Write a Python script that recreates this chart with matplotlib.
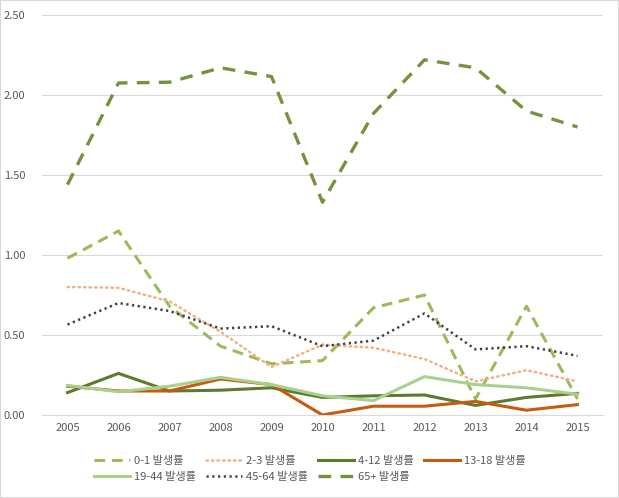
import matplotlib
matplotlib.use("Agg")
import matplotlib.pyplot as plt
from matplotlib.patches import Rectangle

plt.rcParams['font.family'] = ['Noto Sans CJK KR', 'DejaVu Sans']

years = ['2005', '2006', '2007', '2008', '2009', '2010', '2011', '2012', '2013', '2014', '2015']
s_0_1 = [0.98, 1.15, 0.68, 0.43, 0.32, 0.34, 0.67, 0.75, 0.10, 0.68, 0.10]
s_2_3 = [0.80, 0.795, 0.71, 0.52, 0.30, 0.44, 0.42, 0.35, 0.21, 0.28, 0.21]
s_4_12 = [0.14, 0.26, 0.15, 0.155, 0.17, 0.11, 0.12, 0.125, 0.06, 0.11, 0.135]
s_13_18 = [0.18, 0.15, 0.15, 0.225, 0.19, 0.00, 0.055, 0.055, 0.085, 0.03, 0.065]
s_19_44 = [0.185, 0.145, 0.18, 0.235, 0.19, 0.12, 0.09, 0.24, 0.19, 0.17, 0.13]
s_45_64 = [0.565, 0.70, 0.65, 0.54, 0.555, 0.43, 0.465, 0.635, 0.41, 0.43, 0.37]
s_65p = [1.44, 2.075, 2.08, 2.17, 2.115, 1.33, 1.885, 2.22, 2.17, 1.90, 1.80]
y_ticks = [0.0, 0.5, 1.0, 1.5, 2.0, 2.5]

fig = plt.figure(figsize=(6.19, 4.98), dpi=100)
ax = fig.add_axes([42/619, 1 - 415/498, (603 - 42)/619, 400/498])

x = list(range(len(years)))
ax.plot(x, s_0_1, color='#9BBB59', lw=2.2, ls=(0, (3.5, 2.2)), label='0-1 발생률')
ax.plot(x, s_2_3, color='#F4B183', lw=1.8, ls=(0, (0.6, 1.6)), dash_capstyle='round', label='2-3 발생률')
ax.plot(x, s_4_12, color='#5E7A2E', lw=2.2, label='4-12 발생률')
ax.plot(x, s_13_18, color='#C55A11', lw=2.2, label='13-18 발생률')
ax.plot(x, s_19_44, color='#A9D18E', lw=2.2, label='19-44 발생률')
ax.plot(x, s_45_64, color='#404040', lw=1.8, ls=(0, (0.9, 1.4)), label='45-64 발생률')
ax.plot(x, s_65p, color='#76923C', lw=2.4, ls=(0, (3.8, 2.8)), label='65+ 발생률')

ax.set_xlim(-0.5, len(years) - 0.5)
ax.set_ylim(0, 2.5)
ax.set_xticks(x)
ax.set_xticklabels(years)
ax.set_yticks(y_ticks)
ax.set_yticklabels([f'{v:.2f}' for v in y_ticks])
ax.tick_params(axis='both', length=0, labelsize=8, colors='#595959', pad=6)
ax.tick_params(axis='y', pad=12)
ax.yaxis.grid(True, color='#D9D9D9', lw=0.8)
ax.set_axisbelow(True)
for sp in ['top', 'right', 'left']:
    ax.spines[sp].set_visible(False)
ax.spines['bottom'].set_color('#D9D9D9')
ax.spines['bottom'].set_linewidth(0.8)

handles, labels = ax.get_legend_handles_labels()
order = [0, 4, 1, 5, 2, 6, 3]
leg = fig.legend([handles[i] for i in order], [labels[i] for i in order],
                 loc='center', bbox_to_anchor=(0.5, 1 - 469/498),
                 ncol=4, frameon=False, fontsize=8, handlelength=3.3,
                 columnspacing=0.9, handletextpad=0.3, labelspacing=0.5,
                 labelcolor='#595959')

fig.patches.append(Rectangle((0, 0), 1, 1, transform=fig.transFigure, fill=False,
                             edgecolor='#D9D9D9', lw=1.5))
fig.savefig('out.png', dpi=100)
